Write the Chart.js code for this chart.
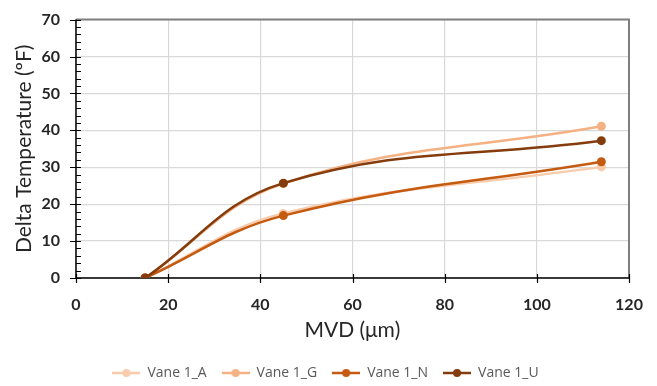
<!DOCTYPE html>
<html>
<head>
<meta charset="utf-8">
<script src="https://cdn.jsdelivr.net/npm/chart.js@4"></script>
<style>
  html, body { margin: 0; padding: 0; background: #fff; }
  #wrap { width: 657px; height: 386px; }
</style>
</head>
<body>
<div id="wrap"><canvas id="chart" width="657" height="386"></canvas></div>
<script>
// MVD values (µm) shared by every series
const mvd = [15, 45, 114];

// Delta temperature (ºF) per vane
const vaneA = [0, 17.5, 30.1];
const vaneG = [0, 25.6, 41.1];
const vaneN = [0, 16.9, 31.5];
const vaneU = [0, 25.7, 37.2];

const seriesNames = ["Vane 1_A", "Vane 1_G", "Vane 1_N", "Vane 1_U"];
const seriesColors = ["#F8CBAD", "#F4B183", "#C55A11", "#843C0C"];

const xTicks = [0, 20, 40, 60, 80, 100, 120];
const yTicks = [0, 10, 20, 30, 40, 50, 60, 70];

const FONT = "Lato";

function toPoints(ys) {
  return mvd.map((x, i) => ({ x: x, y: ys[i] }));
}

// small line + dot marker for the legend
function legendMarker(color) {
  const c = document.createElement("canvas");
  c.width = 28; c.height = 10;
  const g = c.getContext("2d");
  g.strokeStyle = color;
  g.lineWidth = 2.5;
  g.beginPath(); g.moveTo(0, 5); g.lineTo(28, 5); g.stroke();
  g.fillStyle = color;
  g.beginPath(); g.arc(14, 5, 4, 0, Math.PI * 2); g.fill();
  return c;
}

const allSeries = [vaneA, vaneG, vaneN, vaneU];
// listed last-first so Vane 1_U is painted on top, legend reversed back
const datasets = allSeries.map((ys, i) => ({
  label: seriesNames[i],
  data: toPoints(ys),
  borderColor: seriesColors[i],
  backgroundColor: seriesColors[i],
  borderWidth: 2.5,
  pointRadius: 4.5,
  pointHoverRadius: 4.5,
  pointBorderWidth: 0,
  tension: 0.4,
  fill: false
})).reverse();

// axis lines, borders and tick marks in the Excel style
const axisDecor = {
  id: "axisDecor",
  beforeDraw(chart) {
    // nudge the legend a bit right, like the original
    if (chart.legend && !chart.legend._nudged) {
      chart.legend.left += 9;
      chart.legend.right += 9;
      chart.legend._nudged = true;
    }
  },
  beforeDatasetsDraw(chart) {
    const { ctx, chartArea: a, scales } = chart;
    const ys = scales.y, xs = scales.x;
    ctx.save();
    // top and right frame
    ctx.strokeStyle = "#7f7f7f";
    ctx.lineWidth = 2;
    ctx.beginPath();
    ctx.moveTo(a.left, a.top);
    ctx.lineTo(a.right, a.top);
    ctx.lineTo(a.right, a.bottom);
    ctx.stroke();
    // left and bottom axes
    ctx.strokeStyle = "#000";
    ctx.lineWidth = 1.5;
    ctx.beginPath();
    ctx.moveTo(a.left, a.top);
    ctx.lineTo(a.left, a.bottom);
    ctx.lineTo(a.right, a.bottom);
    ctx.stroke();
    ctx.lineWidth = 1.2;
    ctx.beginPath();
    for (let v = 0; v <= 70; v += 2) {
      const py = Math.round(ys.getPixelForValue(v)) + 0.5;
      const major = v % 10 === 0;
      ctx.moveTo(major ? a.left - 6 : a.left, py);
      ctx.lineTo(a.left + 5, py);
    }
    xTicks.forEach(v => {
      const px = Math.round(xs.getPixelForValue(v)) + 0.5;
      ctx.moveTo(px, a.bottom - 4);
      ctx.lineTo(px, a.bottom + 5);
    });
    ctx.stroke();
    ctx.restore();
  }
};

new Chart(document.getElementById("chart").getContext("2d"), {
  type: "line",
  data: { datasets: datasets },
  options: {
    responsive: false,
    animation: false,
    layout: { padding: { left: 4, right: 28, top: 16, bottom: -4 } },
    plugins: {
      tooltip: { enabled: false },
      legend: {
        position: "bottom",
        reverse: true,
        labels: {
          usePointStyle: true,
          pointStyleWidth: 28,
          padding: 15,
          color: "#595959",
          font: { family: "Open Sans", size: 14 },
          generateLabels(chart) {
            const items = Chart.defaults.plugins.legend.labels.generateLabels(chart);
            return items.map(it => {
              it.pointStyle = legendMarker(chart.data.datasets[it.datasetIndex].borderColor);
              return it;
            });
          }
        }
      }
    },
    scales: {
      x: {
        type: "linear",
        min: 0,
        max: 120,
        afterBuildTicks(scale) { scale.ticks = xTicks.map(v => ({ value: v })); },
        afterFit(scale) { scale.height = 73; },
        border: { display: false },
        grid: {
          color: "#d9d9d9",
          lineWidth: 1.2,
          drawTicks: true,
          tickLength: 5,
          tickColor: "rgba(0,0,0,0)"
        },
        ticks: {
          padding: 12,
          color: "#262626",
          font: { family: FONT, size: 16, weight: "bold" }
        },
        title: {
          display: true,
          text: "MVD (μm)",
          color: "#262626",
          padding: { top: 0, bottom: 8 },
          font: { family: FONT, size: 21 }
        }
      },
      y: {
        min: 0,
        max: 70,
        afterBuildTicks(scale) { scale.ticks = yTicks.map(v => ({ value: v })); },
        afterFit(scale) { scale.width = 72; },
        border: { display: false },
        grid: {
          color: "#d9d9d9",
          lineWidth: 1.2,
          drawTicks: true,
          tickLength: 6,
          tickColor: "rgba(0,0,0,0)"
        },
        ticks: {
          padding: 10,
          color: "#262626",
          font: { family: FONT, size: 16, weight: "bold" }
        },
        title: {
          display: true,
          text: "Delta Temperature (ºF)",
          color: "#262626",
          padding: { top: 8, bottom: 0 },
          font: { family: FONT, size: 21 }
        }
      }
    }
  },
  plugins: [axisDecor]
});
</script>
</body>
</html>
